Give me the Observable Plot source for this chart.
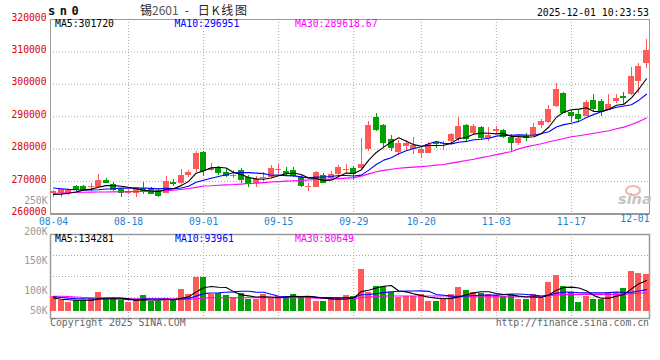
<!DOCTYPE html>
<html><head><meta charset="utf-8">
<script src="https://cdn.jsdelivr.net/npm/d3@7"></script>
<script src="https://cdn.jsdelivr.net/npm/@observablehq/plot@0.6"></script>
<style>
body{margin:0;background:#fff;}
#c{position:relative;width:660px;height:360px;overflow:hidden;background:#fff;font-family:"DejaVu Sans Mono",monospace;}
.t{position:absolute;white-space:pre;font-size:9.8px;line-height:9.8px;}
</style></head><body><div id="c"></div>
<script>
const dates = [
"08-04","08-05","08-06","08-07","08-08","08-11","08-12","08-13","08-14","08-15",
"08-18","08-19","08-20","08-21","08-22","08-25","08-26","08-27","08-28","08-29",
"09-01","09-02","09-03","09-04","09-05","09-08","09-09","09-10","09-11","09-12",
"09-15","09-16","09-17","09-18","09-19","09-22","09-23","09-24","09-25","09-26",
"09-29","09-30","10-09","10-10","10-13","10-14","10-15","10-16","10-17","10-20",
"10-21","10-22","10-23","10-24","10-27","10-28","10-29","10-30","10-31","11-03",
"11-04","11-05","11-06","11-07","11-10","11-11","11-12","11-13","11-14","11-17",
"11-18","11-19","11-20","11-21","11-24","11-25","11-26","11-27","11-28","12-01"];

const open = [
266220,266220,266310,268370,268460,268250,268150,270310,269170,267450,
266310,266400,267850,267540,267230,266400,269690,269290,271910,273790,
278920,273290,274000,272830,271540,273390,271140,269290,270830,271140,
273600,273170,273290,271140,268310,268250,271850,270920,272150,273390,
274000,273910,279850,289790,287230,282830,279020,280680,279750,278520,
278710,282090,281390,282370,282830,287230,284770,286620,283140,285480,
285690,283630,281690,283850,284150,287390,288160,293140,297170,291450,
290620,290090,294920,294620,292060,294770,296160,296770,300770,306400];
const high = [
267230,267630,267690,268860,268920,269290,272150,271080,269690,267850,
267450,268310,269750,268250,267750,271540,270620,273600,273390,279320,
279230,275540,274770,273600,273390,274090,271850,271450,272860,274920,
275320,274220,274310,271850,269480,273170,272370,273080,274920,275380,
274520,283230,288560,291020,287750,284150,282620,282620,283450,280370,
282090,282400,282400,284860,289690,287750,287540,286920,286710,286920,
286000,284560,283850,284680,287850,289080,293390,300160,297390,292060,
292370,294920,296770,295390,296990,296990,297600,305170,306310,313910];
const low = [
264990,264990,265690,266920,267080,266920,268060,269390,267020,265170,
266000,265170,266090,266000,264990,266220,268620,268770,271320,272860,
271540,273080,271850,271140,270830,269290,268310,268060,270150,270830,
272250,271850,271140,268060,267020,268060,269290,270520,271850,272370,
270460,273600,279390,285480,280550,279390,278000,279540,278310,276990,
278520,280060,279540,281790,282400,282090,284150,282620,282400,284860,
283140,279230,281080,282400,283850,286310,287940,292860,291080,288250,
288560,290000,291690,290000,291850,294090,293790,296460,297230,304990];
const close = [
267020,267540,267230,267540,267540,268550,270310,269790,267540,266620,
267020,268060,267390,266400,265850,270000,269480,272000,272830,278710,
273540,274060,272860,271750,271850,270520,269390,270710,271140,273910,
273850,272550,271850,268770,268620,272860,269790,272150,274400,273850,
272370,275230,287230,286220,282090,280370,281790,281600,281080,279750,
281540,281790,281790,284460,286920,283140,286920,283450,284150,286000,
283760,282090,283290,283450,286620,288460,292370,298310,291320,290310,
289450,294400,292560,291540,293690,295540,295940,302310,305390,310310];

const ma5 = [
266000,266100,266400,266800,267370,267680,268230,268750,268750,268560,
268260,267810,267330,267100,266940,267540,267820,268750,270030,272600,
273310,274230,274400,274180,272810,272210,271270,270840,270720,271130,
271800,272430,272660,272190,271130,270930,270380,270440,271560,272610,
272510,273600,276620,278980,280630,282230,283540,282410,281390,280920,
281150,281150,281190,281870,283300,283620,284650,284980,284920,284730,
284860,283890,283860,283720,283840,284780,286840,289840,291420,292150,
292350,292760,291610,291650,292330,293550,293850,295800,298570,301720];
const ma10 = [
268000,267800,267600,267500,267400,267400,267500,267700,267800,267970,
267970,268020,268040,267920,267750,267900,267820,268040,268570,269770,
270430,271030,271570,272110,272710,272760,272750,272620,272450,271970,
272000,271850,271750,271450,271130,271370,271410,271550,271880,271870,
271720,271990,273530,275270,276620,277370,278570,279520,280180,280770,
281690,282350,281800,281630,282110,282390,282900,283080,283390,284020,
284240,284270,284420,284320,284290,284820,285360,286850,287570,288000,
288570,289800,290730,291530,292240,292950,293310,293710,295110,296951];
const ma30 = [
266310,266430,266550,266680,266710,266740,266770,266800,266830,266860,
266890,266920,266950,266990,267020,267170,267320,267570,267850,268220,
268620,268710,268890,268990,269080,269230,269390,269510,269690,269850,
270000,270150,270250,270370,270490,270620,270710,270800,270920,271080,
271230,271690,272370,273020,273450,273790,274120,274310,274460,274620,
274830,275080,275290,275690,276090,276520,276890,277390,277820,278310,
278770,279290,280150,280710,281230,281690,282310,282770,283290,283850,
284150,284520,284920,285290,285690,286300,286800,287600,288500,289618.67];

const vol = [
64100,46650,39240,46650,46650,54060,82840,51010,51010,46650,
39240,46650,68450,43600,42290,54060,46650,95920,72810,148240,
148240,72810,78480,68450,58420,78480,51010,52320,72810,55370,
64090,61040,72810,65400,64090,43600,42290,53190,59730,68450,
64090,181810,82840,107690,107690,80220,61040,64090,65400,71500,
42290,42290,51010,72810,103330,90250,81530,75860,71500,68450,
65400,72810,51010,51010,71500,54060,126440,155650,107690,80220,
36620,64090,51010,51010,81530,81530,98970,174400,164370,160010];
const vma5 = [
58000,52000,50000,48000,48660,46650,53890,56240,57110,57110,
54150,46910,50400,48920,48050,51010,51010,56500,62350,83540,
102370,107600,104120,103240,85280,71330,66970,61740,62610,62000,
59120,61130,65220,63740,65490,61390,57640,53710,52580,53450,
57550,85450,91380,100980,108820,112050,87900,84150,75690,68450,
60860,57110,54500,55980,62350,71940,79790,84760,84490,77520,
72550,70800,65830,61740,62350,60080,70800,91730,103070,104810,
101320,88850,67930,56590,56850,65830,72810,97490,120160,134281];
const vma10 = [
63000,60000,57000,55000,54000,53000,53000,53000,53000,52890,
50400,50400,53320,53020,52580,52580,48960,53450,55630,65790,
76690,79310,80310,82800,84410,86850,87290,82930,82930,73640,
65220,64050,63480,63180,63740,60250,59380,59470,58160,59470,
59470,71550,72550,76780,81140,84800,86680,87770,88330,88640,
86460,72510,69320,65830,65400,66400,68450,69630,70240,69930,
72240,75300,75300,73120,69930,66310,70800,78780,82400,83580,
80700,79830,79830,79830,80830,83580,80830,82710,88380,93961];
const vma30 = [
65400,65000,64000,62000,60000,58400,58400,58000,57000,55000,
54000,54000,54000,54000,54000,54000,54000,52000,51500,54000,
57000,58400,58400,58400,58400,58400,58400,58400,58400,58400,
58400,58400,58400,58400,58400,57000,56000,55000,53500,53000,
54000,59000,62000,64000,66000,66000,66000,66000,66000,66000,
66000,66000,66000,66000,63000,63000,63000,63000,63000,63000,
63000,63000,63000,63000,63000,63000,67000,71000,73000,73500,
73500,73500,73500,73500,73500,73500,73500,76500,78500,80649];

const priceTicks = [260000, 270000, 280000, 290000, 300000, 310000, 320000];
const volTicks = [250000, 200000, 150000, 100000, 50000];
const xLabels = ["08-04","08-18","09-01","09-15","09-29","10-20","11-03","11-17","12-01"];

const RED = "#ff5959", GREEN = "#00a000", GRID = "#a8a8a8", BORDER = "#9a9a9a";
const LBL_RED = "#e00000", LBL_BLUE = "#1f7fd2", LBL_GRAY = "#999";
const FONT = {fontFamily: "'DejaVu Sans Mono', monospace", fontSize: "9.7px", background: "transparent", overflow: "visible"};

const rows = dates.map((date, i) => ({date, open: open[i], high: high[i], low: low[i], close: close[i],
  ma5: ma5[i], ma10: ma10[i], ma30: ma30[i], vol: vol[i], vma5: vma5[i], vma10: vma10[i], vma30: vma30[i]}));
const col = d => d.close >= d.open ? RED : GREEN;
const gridDates = xLabels.slice(1, -1);
const xScale = {type: "band", domain: dates, paddingInner: 0.2, paddingOuter: 0};
const dotted = {stroke: GRID, strokeDasharray: "1,2"};

const price = Plot.plot({
  width: 660, height: 232, marginTop: 19, marginBottom: 18.5, marginLeft: 50, marginRight: 11,
  style: FONT,
  x: xScale,
  y: {domain: [priceTicks[0], priceTicks[priceTicks.length - 1]]},
  marks: [
    Plot.ruleY(priceTicks.slice(1, -1), dotted),
    Plot.ruleX(gridDates, dotted),
    Plot.frame({stroke: BORDER}),
    Plot.ruleY([priceTicks[0]], {stroke: BORDER, strokeWidth: 2}),
    Plot.ruleX(rows, {x: "date", y1: "low", y2: "high", stroke: col, shapeRendering: "crispEdges"}),
    Plot.barY(rows, {x: "date", y1: "open", y2: "close", fill: col, shapeRendering: "crispEdges"}),
    Plot.tickY(rows, {x: "date", y: "close", stroke: col, shapeRendering: "crispEdges"}),
    Plot.line(rows, {x: "date", y: "ma30", stroke: "#ff00ff", strokeWidth: 1.1}),
    Plot.line(rows, {x: "date", y: "ma10", stroke: "#0000ff", strokeWidth: 1.1}),
    Plot.line(rows, {x: "date", y: "ma5", stroke: "#000", strokeWidth: 1.1}),
    Plot.axisY(priceTicks, {tickSize: 0, tickPadding: 4, tickFormat: d3.format("d"), fill: LBL_RED, dy: -2, label: null}),
    Plot.axisX(xLabels.slice(0, -1), {tickSize: 0, tickPadding: 4.5, fill: LBL_BLUE, label: null}),
    Plot.text(xLabels.slice(-1), {x: d => d, frameAnchor: "bottom", dy: 8, dx: 3, textAnchor: "end", fill: LBL_BLUE})
  ]
});

const volDomain = [-31830, 334400];
const volGrid = [1, 2, 3].map(k => volDomain[0] + (volDomain[1] - volDomain[0]) * k / 4);
const volume = Plot.plot({
  width: 660, height: 128, marginTop: 2, marginBottom: 42, marginLeft: 50, marginRight: 11,
  style: FONT,
  x: {...xScale, axis: null},
  y: {domain: volDomain, axis: null},
  marks: [
    Plot.ruleY(volGrid, dotted),
    Plot.ruleX(gridDates, dotted),
    Plot.frame({stroke: BORDER, strokeWidth: 1.5}),
    Plot.barY(rows, {x: "date", y1: 0, y2: "vol", fill: col, shapeRendering: "crispEdges"}),
    Plot.line(rows, {x: "date", y: "vma30", stroke: "#ff00ff", strokeWidth: 1.1}),
    Plot.line(rows, {x: "date", y: "vma10", stroke: "#0000ff", strokeWidth: 1.1}),
    Plot.line(rows, {x: "date", y: "vma5", stroke: "#000", strokeWidth: 1.1})
  ]
});

const volAxis = Plot.plot({
  width: 52, height: 360, marginLeft: 50, marginRight: 2, marginTop: 0, marginBottom: 0,
  style: FONT,
  y: {type: "linear", domain: [50000, 100000, 200000, 250000], range: [310, 290, 231, 200]},
  marks: [
    Plot.axisY(volTicks, {tickSize: 0, tickPadding: 3, tickFormat: d => d / 1000 + "K", fill: LBL_GRAY, label: null})
  ]
});

const c = document.getElementById("c");
function place(el, top, left) {
  el.style.position = "absolute"; el.style.top = top + "px"; el.style.left = left + "px";
  c.appendChild(el);
}
place(price, 0, 0);
place(volume, 232, 0);
place(volAxis, 0, 0);

function label(text, css, html) {
  const d = document.createElement("div");
  d.className = "t";
  if (html) d.innerHTML = html; else d.textContent = text;
  d.style.cssText += css;
  c.appendChild(d);
}
const last = a => a[a.length - 1];
label("sn0", "left:48px;top:5px;font-weight:bold;font-size:12px;line-height:12px;letter-spacing:4.5px;color:#111;");
label(null, "left:140px;top:4px;font-family:'Noto Sans CJK SC',sans-serif;font-size:12px;line-height:12px;color:#222;",
  '锡<span style="color:#555">2601</span><span style="margin:0 9px 0 6px">-</span><span style="letter-spacing:1.8px">日K线图</span>');
label("2025-12-01 10:23:53", "right:11px;top:7.5px;color:#000;");
label("MA5:" + last(ma5), "left:55px;top:19px;color:#000;");
label("MA10:" + last(ma10), "left:174.5px;top:19px;color:#0000ff;");
label("MA30:" + last(ma30), "left:295px;top:19px;color:#ff00ff;");
label("MA5:" + last(vma5), "left:55px;top:233.6px;color:#000;");
label("MA10:" + last(vma10), "left:175px;top:233.6px;color:#0000ff;");
label("MA30:" + last(vma30), "left:295px;top:233.6px;color:#ff00ff;");
label("Copyright 2025 SINA.COM", "left:50px;top:318px;color:#666;");
label("http://finance.sina.com.cn", "right:11px;top:318px;color:#666;");
const eye = document.createElement("div");
eye.style.cssText = "position:absolute;left:625px;top:185px;width:12px;height:7px;border:2px solid #f3b3b3;border-radius:50%;";
c.appendChild(eye);
label("sina", "left:618px;top:192px;font-family:'DejaVu Sans',sans-serif;font-style:italic;font-weight:bold;font-size:14.5px;line-height:14.5px;color:#c4c4c4;");
</script>
</body></html>
